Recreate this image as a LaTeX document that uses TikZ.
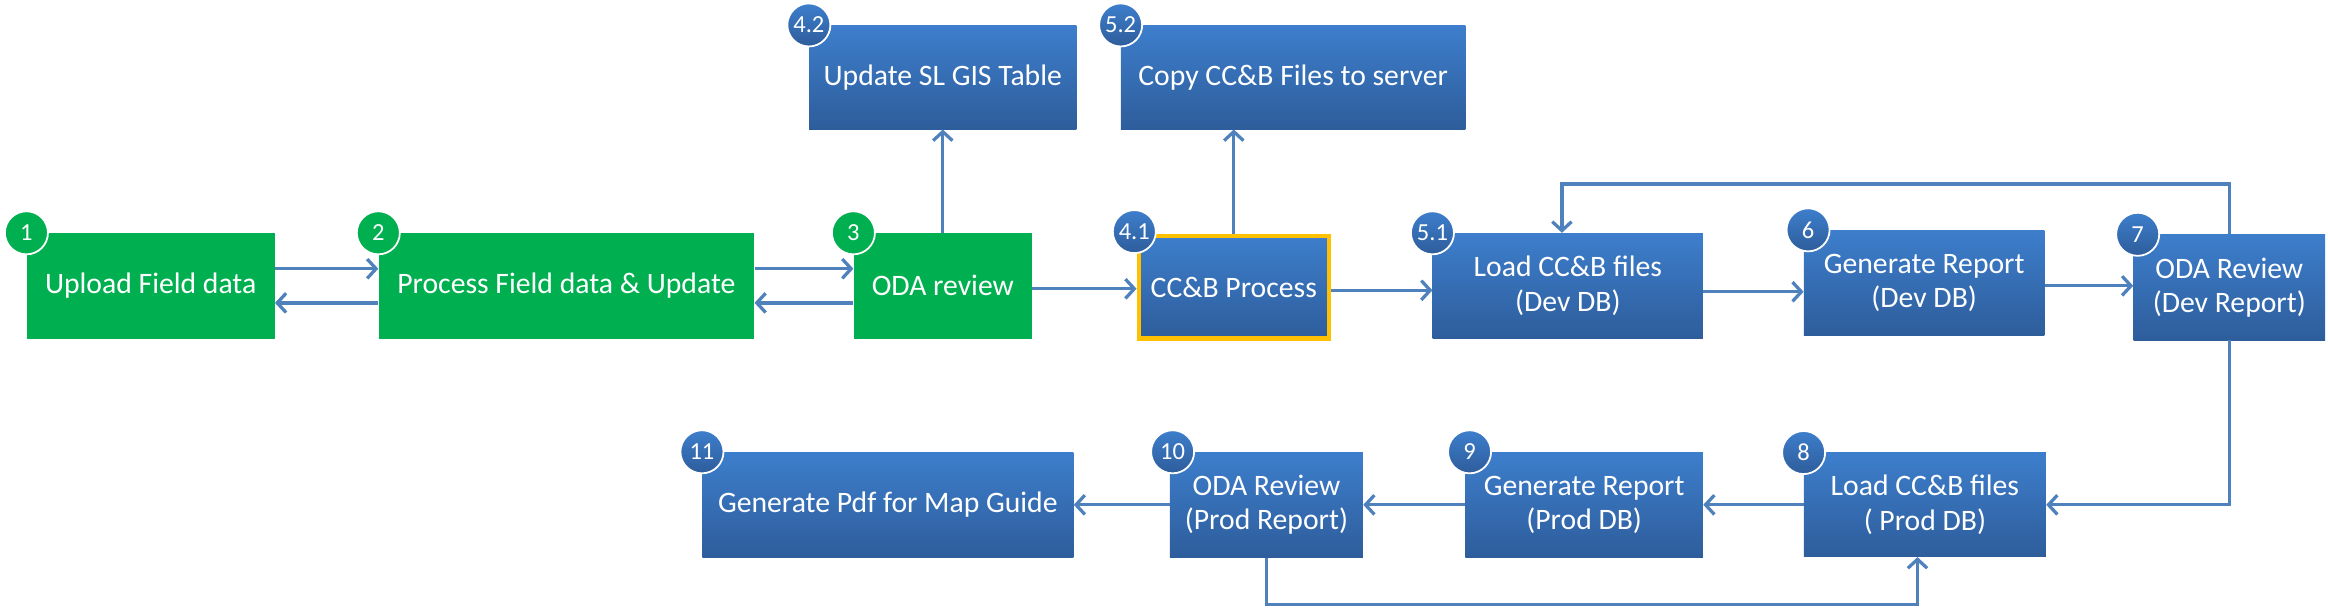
\documentclass[tikz,border=0pt]{standalone}
\usepackage{fontspec}
\setmainfont{Carlito}
\usepackage{tikz}
\usetikzlibrary{arrows.meta}
\definecolor{stepgreen}{RGB}{0,176,80}
\definecolor{steptop}{RGB}{61,126,204}
\definecolor{stepbottom}{RGB}{46,93,155}
\definecolor{linkblue}{RGB}{79,129,189}
\definecolor{hilite}{RGB}{255,192,0}
\tikzset{
  box/.style={rectangle, minimum height=71pt, inner sep=0pt, text=white, align=center,
    font=\fontsize{20}{23}\selectfont},
  greenbox/.style={box, fill=stepgreen},
  bluebox/.style={box, top color=steptop, bottom color=stepbottom},
  badge/.style={circle, draw=white, line width=1.2pt, minimum size=29pt, inner sep=0pt,
    text=white, font=\fontsize{16.5}{16.5}\selectfont},
  greenbadge/.style={badge, fill=stepgreen},
  bluebadge/.style={badge, top color=steptop, bottom color=stepbottom},
  link/.style={draw=linkblue, line width=2.2pt, -{Straight Barb[length=6pt,width=13pt,line width=2.2pt]}}
}

\begin{document}
\begin{tikzpicture}[x=1pt, y=-1pt]
        \useasboundingbox (0,0) rectangle (1568,410);
        \coordinate (backtop) at (0,124);
        \coordinate (backbottom) at (0,407);

        \node[greenbox, minimum width=167pt] (upload) at (101.5,192.5) {Upload Field data};
        \node[greenbox, minimum width=253pt] (process) at (381.5,192.5) {Process Field data \& Update};
        \node[greenbox, minimum width=120pt] (odareview) at (635,192.5) {ODA review};
        \node[bluebox, minimum width=180pt, minimum height=70pt] (gistable) at (635,52) {Update SL GIS Table};
        \node[bluebox, minimum width=232pt, minimum height=70pt] (copyfiles) at (871,52) {Copy CC\&B Files to server};
        \node[bluebox, minimum width=128pt, minimum height=69pt, draw=hilite, line width=3pt] (ccbprocess) at (831,193.5) {CC\&B Process};
        \node[bluebox, minimum width=182pt] (loaddev) at (1056,192.5) {Load CC\&B files\\(Dev DB)};
        \node[bluebox, minimum width=162pt] (reportdev) at (1296,190.5) {Generate Report\\(Dev DB)};
        \node[bluebox, minimum width=129pt] (reviewdev) at (1501.5,193.5) {ODA Review\\(Dev Report)};
        \node[bluebox, minimum width=163pt, minimum height=70pt] (loadprod) at (1296.5,340) {Load CC\&B files\\( Prod DB)};
        \node[bluebox, minimum width=160pt] (reportprod) at (1067,340) {Generate Report\\(Prod DB)};
        \node[bluebox, minimum width=130pt] (reviewprod) at (853,340) {ODA Review\\(Prod Report)};
        \node[bluebox, minimum width=250pt] (pdfguide) at (598,340) {Generate Pdf for Map Guide};

        \node[greenbadge] (b1) at (upload.north west) {1};
        \node[greenbadge] (b2) at (process.north west) {2};
        \node[greenbadge] (b3) at (odareview.north west) {3};
        \node[bluebadge] (b42) at (gistable.north west) {4.2};
        \node[bluebadge] (b52) at (copyfiles.north west) {5.2};
        \node[bluebadge] (b41) at ([shift={(-1.5,-1.5)}]ccbprocess.north west) {4.1};
        \node[bluebadge] (b51) at (loaddev.north west) {5.1};
        \node[bluebadge] (b6) at ([xshift=3pt]reportdev.north west) {6};
        \node[bluebadge] (b7) at ([xshift=3pt]reviewdev.north west) {7};
        \node[bluebadge] (b8) at (loadprod.north west) {8};
        \node[bluebadge] (b9) at ([xshift=3pt]reportprod.north west) {9};
        \node[bluebadge] (b10) at ([xshift=2pt]reviewprod.north west) {10};
        \node[bluebadge] (b11) at (pdfguide.north west) {11};

        \draw[link] ([yshift=11.5pt]upload.east) -- ([yshift=11.5pt]process.west);
        \draw[link] ([yshift=-11.5pt]process.west) -- ([yshift=-11.5pt]upload.east);
        \draw[link] ([yshift=11.5pt]process.east) -- ([yshift=11.5pt]odareview.west);
        \draw[link] ([yshift=-11.5pt]odareview.west) -- ([yshift=-11.5pt]process.east);
        \draw[link] ([yshift=-2pt]odareview.east) -- ([yshift=-2pt]odareview.east -| ccbprocess.west);
        \draw[link] (odareview.north) -- (gistable.south);
        \draw[link] (ccbprocess.north) -- (ccbprocess.north |- copyfiles.south);
        \draw[link] ([yshift=-2pt]ccbprocess.east) -- ([yshift=-2pt]ccbprocess.east -| loaddev.west);
        \draw[link] ([yshift=-4pt]loaddev.east) -- ([yshift=-4pt]loaddev.east -| reportdev.west);
        \draw[link] ([yshift=-2pt]reportdev.east) -- ([yshift=-2pt]reportdev.east -| reviewdev.west);
        \draw[link] (reviewdev.north) -- (reviewdev.north |- backtop) -| ([xshift=-4pt]loaddev.north);
        \draw[link] (reviewdev.south) |- (loadprod.east);
        \draw[link] (loadprod.west) -- (reportprod.east);
        \draw[link] (reportprod.west) -- (reviewprod.east);
        \draw[link] (reviewprod.west) -- (pdfguide.east);
        \draw[link] (reviewprod.south) -- (reviewprod.south |- backbottom) -| ([xshift=-5pt]loadprod.south);
    \end{tikzpicture}
\end{document}
